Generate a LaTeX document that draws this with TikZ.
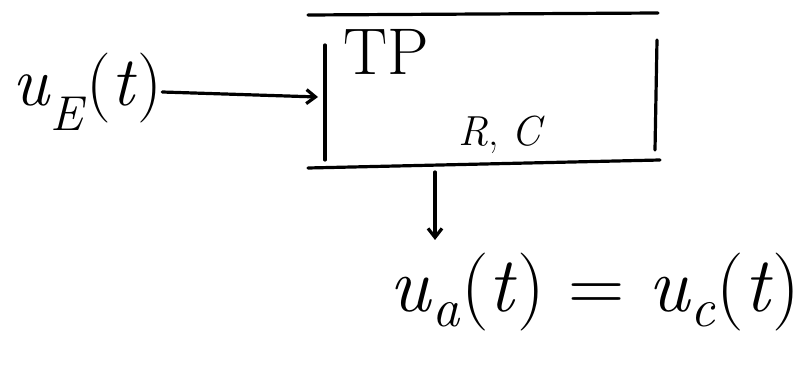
\documentclass[tikz,border=0pt]{standalone}
\usepackage{fontspec}
\usetikzlibrary{arrows.meta}
\newcommand{\usub}[2]{\textit{#1}\textsubscript{\textit{#2}}}
\begin{document}
\begin{tikzpicture}[x=1pt,y=-1pt,
  ink/.style={line width=3.2pt,line cap=round,line join=round},
  arr/.style={ink,-{Straight Barb[length=9pt,width=14pt]}},
  big/.style={font=\fontsize{70}{80}\selectfont,inner sep=0pt},
  huge/.style={font=\fontsize{78}{90}\selectfont,inner sep=0pt},
  mid/.style={font=\fontsize{66}{76}\selectfont,inner sep=0pt},
  small/.style={font=\fontsize{42}{50}\selectfont,inner sep=0pt}]
\useasboundingbox (0,0) rectangle (809,374);
\node[big,anchor=west] (in) at (12,92) {\usub{u}{E}(\textit{t})};
\node[minimum width=332pt,minimum height=153pt,anchor=north west,inner sep=0pt] (tp) at (325,15) {};
\draw[ink] (308,15) -- (658,13);
\draw[ink] (308,168) -- (660,160);
\draw[ink] (325,45) -- (325,160);
\draw[ink] (657,40) -- (655,150);
\node[mid,anchor=west] (lbl) at (343,52) {TP};
\node[small,anchor=west] (rc) at (458,135) {\textit{R}, \textit{C}};
\coordinate (tpin) at (318,97);
\draw[arr] (in.east) -- (tpin);
\coordinate (down0) at (435,172);
\node[huge,anchor=center] (out) at (595,292) {\usub{u}{a}(\textit{t}) = \usub{u}{c}(\textit{t})};
\draw[arr] (down0) -- (435,240);
\end{tikzpicture}
\end{document}
